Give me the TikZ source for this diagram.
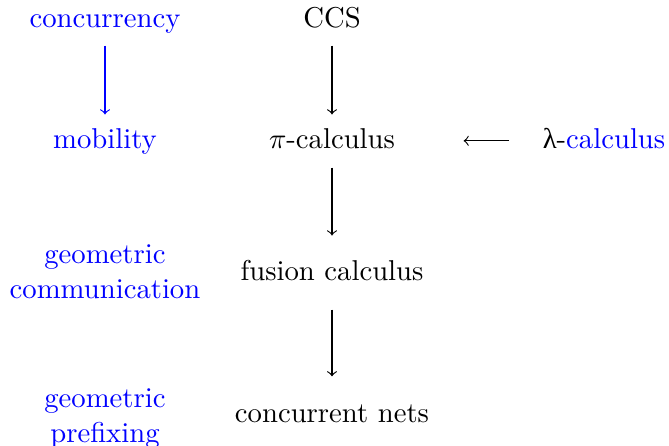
\documentclass[tikz,border=0pt]{standalone}
\usepackage{fontspec}
\newfontfamily\grk{Liberation Serif}
\begin{document}
\begin{tikzpicture}[x=0.3484pt,y=-0.3484pt,
  lbl/.style={anchor=base,inner sep=0pt,text height=7pt,text depth=2pt},
  two/.style={anchor=base,inner sep=0pt,align=center,text=blue},
  arr/.style={->,line width=0.4pt}]
\useasboundingbox (0,0) rectangle (669,445);
\node[lbl,text=blue] (conc) at (105,28) {concurrency};
\node[lbl,text=blue] (mob) at (105,148) {mobility};
\node[two] (gc) at (105,298) {geometric\\communication};
\node[two] (gp) at (105,442) {geometric\\prefixing};
\node[lbl] (ccs) at (332,28) {CCS};
\node[lbl] (pi) at (332,148) {$\pi$-calculus};
\node[lbl] (fus) at (332,280) {fusion calculus};
\node[lbl] (nets) at (332,422) {concurrent nets};
\node[lbl] (lam) at (604,148) {{\grk λ}-\textcolor{blue}{calculus}};
\draw[arr,blue,shorten <=3.9pt,shorten >=4.5pt] (conc.south) -- (mob.north);
\draw[arr,shorten <=3.9pt,shorten >=4.5pt] (ccs.south) -- (pi.north);
\draw[arr,shorten <=4.6pt,shorten >=8.3pt] (pi.south) -- (fus.north);
\draw[arr,shorten <=8.1pt,shorten >=8.7pt] (fus.south) -- (nets.north);
\draw[arr,shorten <=11.5pt,shorten >=23.7pt] (lam.west) -- (pi.east);
\end{tikzpicture}
\end{document}
